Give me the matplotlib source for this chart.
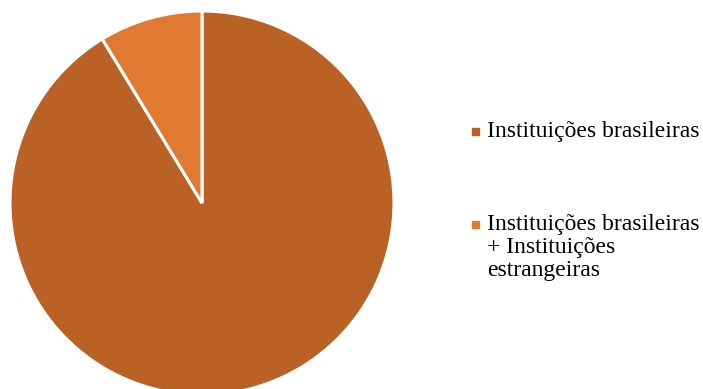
import matplotlib.pyplot as plt
from matplotlib.patches import Rectangle

labels = ["Instituições brasileiras",
          "Instituições brasileiras\n+ Instituições\nestrangeiras"]
values = [21, 2]
colors = ["#BA6125", "#E07A31"]

plt.rcParams['font.family'] = ['Liberation Serif', 'DejaVu Serif']

W, H = 703, 389
fig = plt.figure(figsize=(7.03, 3.89), dpi=100)
ax = fig.add_axes([0, 0, 1, 1])
ax.axis('off')

# pie: big slice clockwise from 12 o'clock
ax.pie(values, colors=colors, startangle=90, counterclock=False,
       center=(202, H - 203), radius=192,
       wedgeprops=dict(edgecolor='white', linewidth=2.2))
ax.set_xlim(0, W)
ax.set_ylim(0, H)
ax.set_aspect('equal')

# legend
ys = [131, 224]
for lab, col, y in zip(labels, colors, ys):
    ax.add_patch(Rectangle((472, H - y - 3.5), 7, 7, color=col))
    ax.text(487, H - y + 10, lab, fontsize=17, va='top', ha='left',
            linespacing=1.12)

fig.savefig("out.png", dpi=100)
